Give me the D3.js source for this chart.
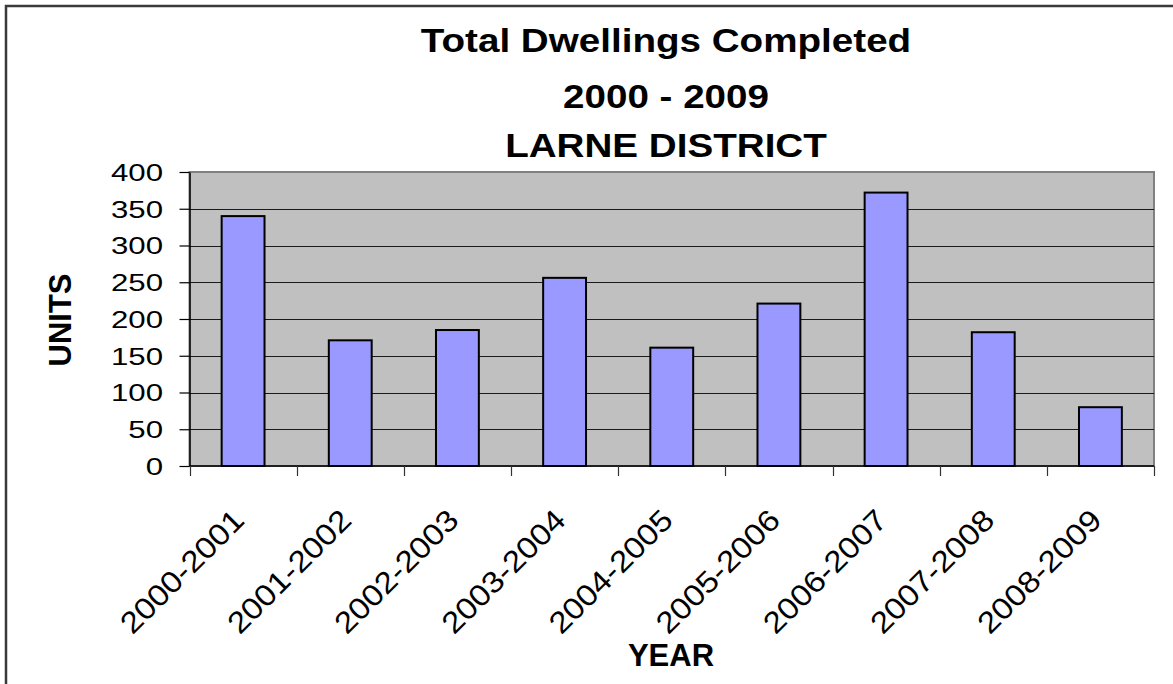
<!DOCTYPE html>
<html>
<head>
<meta charset="utf-8">
<script src="https://cdn.jsdelivr.net/npm/d3@7"></script>
<style>
  html, body { margin: 0; padding: 0; background: #fff; }
  text { font-family: "Liberation Sans", Arial, sans-serif; }
</style>
</head>
<body>
<div id="chart"></div>
<script>
const years = ["2000-2001", "2001-2002", "2002-2003", "2003-2004", "2004-2005",
               "2005-2006", "2006-2007", "2007-2008", "2008-2009"];
const units = [340, 171, 185, 256, 161, 221, 372, 182, 80];
const yTicks = [0, 50, 100, 150, 200, 250, 300, 350, 400];
const titleLines = ["Total Dwellings Completed", "2000 - 2009", "LARNE DISTRICT"];

const svgWidth = 1173;
const svgHeight = 684;
const plot = { left: 189.5, top: 172, right: 1154, bottom: 466 };

const svg = d3.select("#chart")
    .append("svg")
    .attr("width", svgWidth)
    .attr("height", svgHeight);

// outer chart border (cut off on the right and bottom)
svg.append("rect")
    .attr("x", 6)
    .attr("y", 6)
    .attr("width", 1300)
    .attr("height", 800)
    .attr("fill", "#fff")
    .attr("stroke", "#3a3a3a")
    .attr("stroke-width", 2.5);

const x = d3.scaleBand()
    .domain(years)
    .range([plot.left, plot.right])
    .paddingInner(0.6)
    .paddingOuter(0.3);

const y = d3.scaleLinear()
    .domain([0, 400])
    .range([plot.bottom, plot.top]);

// plot area
svg.append("rect")
    .attr("x", plot.left)
    .attr("y", plot.top)
    .attr("width", plot.right - plot.left)
    .attr("height", plot.bottom - plot.top)
    .attr("fill", "#c0c0c0")
    .attr("stroke", "#808080")
    .attr("stroke-width", 2);

// gridlines
svg.append("g")
    .selectAll("line")
    .data(yTicks.filter(d => d > 0 && d < 400))
    .enter()
    .append("line")
    .attr("x1", plot.left)
    .attr("x2", plot.right)
    .attr("y1", d => Math.round(y(d)) + 0.5)
    .attr("y2", d => Math.round(y(d)) + 0.5)
    .attr("stroke", "#1a1a1a")
    .attr("stroke-width", 1.2);

// bars
svg.append("g")
    .selectAll("rect")
    .data(years)
    .enter()
    .append("rect")
    .attr("x", d => x(d))
    .attr("y", (d, i) => y(units[i]))
    .attr("width", x.bandwidth())
    .attr("height", (d, i) => y(0) - y(units[i]))
    .attr("fill", "#9999ff")
    .attr("stroke", "#000")
    .attr("stroke-width", 2);

// y axis
const yAxis = svg.append("g")
    .attr("transform", `translate(${plot.left},0)`)
    .call(d3.axisLeft(y).tickValues(yTicks).tickSize(10).tickSizeOuter(0).tickFormat(""));
yAxis.select(".domain").attr("stroke", "#000").attr("stroke-width", 1.5);
yAxis.selectAll(".tick line").attr("stroke", "#000").attr("stroke-width", 1.2);

svg.append("g")
    .selectAll("text")
    .data(yTicks)
    .enter()
    .append("text")
    .attr("transform", d => `translate(163,${y(d) + 8.8}) scale(1.3,1)`)
    .attr("text-anchor", "end")
    .style("font-size", "24px")
    .style("fill", "#000")
    .text(d => d);

// x axis: ticks on category boundaries
const xEdges = d3.range(years.length + 1).map(i => plot.left + i * x.step());
svg.append("line")
    .attr("x1", plot.left)
    .attr("x2", plot.right)
    .attr("y1", plot.bottom)
    .attr("y2", plot.bottom)
    .attr("stroke", "#000")
    .attr("stroke-width", 1.5);
svg.append("g")
    .selectAll("line")
    .data(xEdges)
    .enter()
    .append("line")
    .attr("x1", d => Math.round(d) + 0.5)
    .attr("x2", d => Math.round(d) + 0.5)
    .attr("y1", plot.bottom)
    .attr("y2", plot.bottom + 10)
    .attr("stroke", "#333")
    .attr("stroke-width", 1.2);

svg.append("g")
    .selectAll("text")
    .data(years)
    .enter()
    .append("text")
    .attr("transform", d => `translate(${x(d) + x.bandwidth() / 2 + 3},522) rotate(-45) scale(1.12,1)`)
    .attr("text-anchor", "end")
    .style("font-size", "30px")
    .style("fill", "#000")
    .text(d => d);

// title
const titleY = [52, 108, 157];
svg.append("g")
    .selectAll("text")
    .data(titleLines)
    .enter()
    .append("text")
    .attr("transform", (d, i) => `translate(666,${titleY[i]}) scale(1.17,1)`)
    .attr("text-anchor", "middle")
    .style("font-size", "33px")
    .style("font-weight", "bold")
    .style("fill", "#000")
    .text(d => d);

// axis titles
svg.append("text")
    .attr("transform", "translate(71,320) rotate(-90)")
    .attr("text-anchor", "middle")
    .style("font-size", "31px")
    .style("font-weight", "bold")
    .text("UNITS");

svg.append("text")
    .attr("x", 671)
    .attr("y", 666)
    .attr("text-anchor", "middle")
    .style("font-size", "31px")
    .style("font-weight", "bold")
    .text("YEAR");
</script>
</body>
</html>
